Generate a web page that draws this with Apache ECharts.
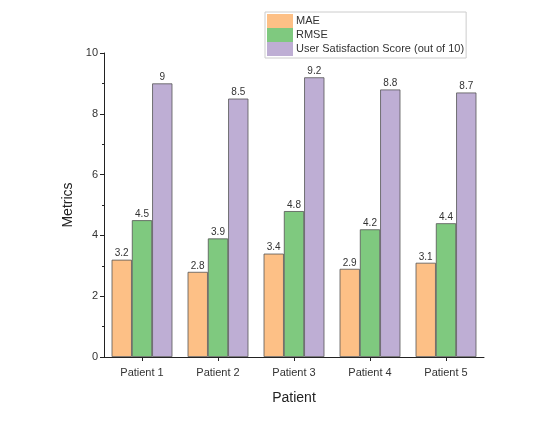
<!DOCTYPE html>
<html><head><meta charset="utf-8">
<script src="https://cdn.jsdelivr.net/npm/echarts@6/dist/echarts.min.js"></script>
<style>html,body{margin:0;padding:0;background:#fff}#c{width:546px;height:421px}</style>
</head><body><div id="c"></div>
<script>
const categories = ['Patient 1','Patient 2','Patient 3','Patient 4','Patient 5'];
const mae = [3.2, 2.8, 3.4, 2.9, 3.1];
const rmse = [4.5, 3.9, 4.8, 4.2, 4.4];
const satisfaction = [9, 8.5, 9.2, 8.8, 8.7];
const seriesNames = ['MAE','RMSE','User Satisfaction Score (out of 10)'];
const colors = ['#fdc086','#7fc97f','#beaed4'];
const yTicks = [0,2,4,6,8,10];

const font = 'Liberation Sans, Arial, sans-serif';
const chart = echarts.init(document.getElementById('c'));
const mk = (name, data, color) => ({
  name, type: 'bar', data, barGap: '0%', barCategoryGap: '20%',
  itemStyle: { color, borderColor: '#555', borderWidth: 0.8 },
  label: { show: true, position: 'top', distance: 1, fontSize: 10, color: '#333', fontFamily: font }
});
chart.setOption({
  animation: false,
  textStyle: { fontFamily: font },
  grid: { left: 104, right: 62, top: 53, bottom: 64 },
  legend: {
    orient: 'vertical', left: 265, top: 12, itemGap: 0, itemWidth: 26, itemHeight: 14,
    padding: [2, 2, 2, 2], borderColor: '#ccc', borderWidth: 1, icon: 'rect',
    itemStyle: { borderWidth: 0 },
    textStyle: { fontSize: 11, color: '#333', padding: [0,0,0,-2] },
    data: seriesNames
  },
  xAxis: {
    type: 'category', data: categories, name: 'Patient', nameLocation: 'middle', nameGap: 34,
    nameTextStyle: { fontSize: 14, color: '#222' },
    axisLine: { lineStyle: { color: '#222', width: 1 } },
    axisTick: { show: true, alignWithLabel: true, length: 4, lineStyle: { color: '#222' } },
    axisLabel: { fontSize: 11, color: '#333', margin: 10 }
  },
  yAxis: {
    type: 'value', min: yTicks[0], max: yTicks[yTicks.length-1], interval: 2,
    name: 'Metrics', nameLocation: 'middle', nameGap: 25,
    nameTextStyle: { fontSize: 14, color: '#222' },
    axisLine: { show: true, lineStyle: { color: '#222', width: 1 } },
    axisTick: { show: true, length: 4, lineStyle: { color: '#222' } },
    minorTick: { show: true, splitNumber: 2, length: 2, lineStyle: { color: '#222' } },
    splitLine: { show: false },
    axisLabel: { fontSize: 11, color: '#333', margin: 6 }
  },
  series: [mk(seriesNames[0], mae, colors[0]), mk(seriesNames[1], rmse, colors[1]), mk(seriesNames[2], satisfaction, colors[2])]
});
</script></body></html>
